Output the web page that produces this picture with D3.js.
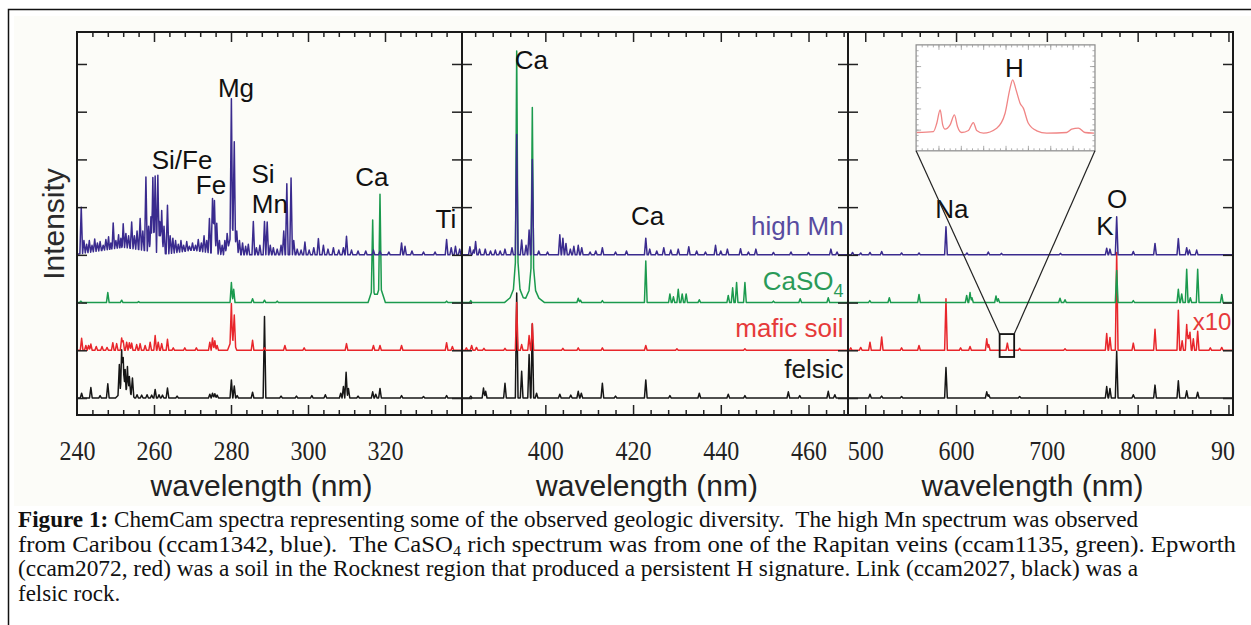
<!DOCTYPE html>
<html>
<head>
<meta charset="utf-8">
<script src="https://cdn.jsdelivr.net/npm/d3@7"></script>
<style>
  body { margin: 0; background: #fff; }
  text { white-space: pre; }
</style>
</head>
<body>
<div id="chart"></div>
<script>
// spectra: [wavelength nm, height above own baseline (tick units), optional half-width nm]
const bluePeaks = [
  [252, 0.16, 13], [270, 0.1, 8],
  [241.1, 1.0], [241.8, 0.3], [242.5, 0.22], [243.2, 0.3], [243.9, 0.2], [244.6, 0.33], [245.3, 0.25],
  [246.0, 0.28], [246.8, 0.2], [247.5, 0.32], [248.2, 0.38], [248.8, 0.25], [249.4, 0.67], [250.1, 0.3],
  [250.8, 0.42], [251.4, 0.35], [252.0, 0.65], [252.7, 0.45], [253.4, 0.4], [254.2, 0.69], [254.9, 0.4],
  [255.6, 0.5], [256.4, 0.76], [257.1, 0.5], [257.9, 1.63], [258.6, 0.6], [259.2, 0.8], [259.7, 1.62],
  [260.3, 1.65], [261.0, 1.67], [261.5, 0.7], [262.0, 0.93], [262.6, 0.6], [263.5, 1.04], [264.2, 0.4],
  [264.9, 0.35], [265.6, 0.3], [266.3, 0.22], [267.0, 0.3], [267.7, 0.2], [268.5, 0.28], [269.2, 0.18],
  [270.0, 0.25], [270.8, 0.2], [271.5, 0.32], [272.3, 0.25], [273.0, 0.4], [273.7, 0.3], [274.4, 0.76],
  [275.2, 1.18], [275.7, 1.14], [276.3, 0.66], [277.0, 0.3], [277.7, 0.2], [278.4, 0.3], [279.0, 0.45],
  [280.4, 0.55, 1.6], [280.1, 3.27], [280.85, 2.37], [281.5, 0.5], [282.2, 0.3], [283.0, 0.25],
  [283.8, 0.18], [284.5, 0.22], [285.8, 0.7], [286.6, 0.15], [287.5, 0.2], [288.7, 0.7], [289.4, 0.69],
  [290.2, 0.2], [291.0, 0.15], [292.0, 0.12], [293.0, 0.2], [293.7, 0.5], [294.5, 1.49], [295.6, 1.61],
  [296.3, 0.3], [297.2, 0.12], [298.2, 0.1], [299.2, 0.27], [300.3, 0.1], [301.5, 0.15], [302.7, 0.34],
  [304.0, 0.2], [305.2, 0.12], [306.6, 0.15], [308.0, 0.1], [309.2, 0.15], [310.0, 0.39], [311.3, 0.1],
  [313.0, 0.08], [315.0, 0.08], [317.0, 0.1], [318.7, 0.08], [321.0, 0.06], [324.3, 0.25], [325.2, 0.18],
  [327.0, 0.08], [330.0, 0.06], [333.0, 0.06], [336.0, 0.32], [337.2, 0.15], [338.3, 0.18], [339.4, 0.12],
  [382.8, 0.17], [383.6, 0.1], [384.1, 0.28], [385.0, 0.12], [386.3, 0.12], [387.5, 0.08], [388.6, 0.1],
  [389.7, 0.08], [390.8, 0.12], [392.4, 0.15], [393.47, 2.52], [394.6, 0.31], [395.6, 0.2], [396.3, 0.52],
  [397.03, 2.0], [398.5, 0.08], [400.5, 0.06], [403.3, 0.42], [404.0, 0.35], [404.7, 0.24], [405.7, 0.12],
  [406.5, 0.18], [407.5, 0.2], [408.3, 0.15], [410.2, 0.06], [411.5, 0.08], [413.0, 0.15], [416.0, 0.06],
  [418.5, 0.08], [422.9, 0.35], [423.8, 0.12], [425.4, 0.08], [427.0, 0.15], [428.6, 0.1], [430.3, 0.12],
  [432.7, 0.17], [434.5, 0.08], [436.5, 0.06], [438.8, 0.2], [440.0, 0.08], [441.5, 0.12], [444.5, 0.13],
  [446.3, 0.06], [448.0, 0.12], [452.0, 0.05], [456.0, 0.06], [460.0, 0.05], [465.1, 0.12], [466.5, 0.06],
  [486, 0.05], [495, 0.04], [505.2, 0.05], [518.1, 0.07], [540, 0.04], [559.2, 0.04], [588.9, 0.59],
  [612, 0.04], [635.5, 0.06], [650, 0.03], [715, 0.03], [765.9, 0.14], [769.5, 0.12], [776.9, 0.8],
  [795.2, 0.07], [819.1, 0.24], [844.8, 0.34], [854.0, 0.15], [857.0, 0.1], [865.0, 0.1]
];

const greenPeaks = [
  [241, 0.03], [248.0, 0.21], [251.6, 0.05], [256, 0.02], [280.1, 0.42], [280.7, 0.28], [285.6, 0.08],
  [288.7, 0.05], [292, 0.03], [316.8, 0.3, 1.2], [316.8, 1.73], [318.7, 0.35, 1.4], [318.7, 2.27], [336, 0.03],
  [383, 0.04],
  [393.47, 0.22, 2.8], [393.47, 0.55, 1.5], [393.47, 1.4, 0.75], [393.47, 5.27, 0.3],
  [397.03, 0.2, 2.8], [397.03, 0.5, 1.5], [397.03, 1.2, 0.75], [397.03, 4.09, 0.3],
  [407.5, 0.09], [408.0, 0.05], [413.0, 0.04], [422.9, 0.87], [428.4, 0.18], [429.2, 0.12], [430.3, 0.28],
  [431.2, 0.18], [432.1, 0.18], [435.1, 0.06], [441.7, 0.15], [442.7, 0.31], [443.6, 0.42], [445.5, 0.42],
  [452, 0.03], [458.1, 0.08], [464.5, 0.1],
  [505, 0.04], [526.5, 0.1], [559.2, 0.17], [611.7, 0.15], [615.4, 0.21], [617.5, 0.1], [644, 0.14],
  [646.5, 0.08], [714.5, 0.09], [720, 0.06], [776.9, 0.67], [795.2, 0.04], [844.8, 0.28], [848.5, 0.18],
  [854.0, 0.7], [858.0, 0.1], [866.1, 0.7], [892.6, 0.17]
];

const redPeaks = [
  [241.2, 0.25], [242.3, 0.1], [243.0, 0.1], [243.6, 0.13], [245.0, 0.08], [246.5, 0.08], [247.8, 0.06],
  [249.3, 0.16], [250.3, 0.14], [251.6, 0.26], [252.0, 0.2], [252.9, 0.17], [253.6, 0.16], [254.2, 0.15],
  [255.5, 0.12], [256.4, 0.14], [257.7, 0.1], [259.0, 0.17], [260.3, 0.31], [261.1, 0.17], [262.0, 0.14],
  [263.5, 0.23], [265, 0.05], [268, 0.05], [271, 0.05], [274.5, 0.17], [275.2, 0.26], [275.8, 0.2],
  [276.4, 0.1], [280.3, 0.25, 1.2], [280.1, 0.98], [280.85, 0.74], [285.6, 0.21], [288.7, 0.05], [294, 0.1],
  [299, 0.05], [310.0, 0.14], [317.0, 0.1], [318.7, 0.1], [324.3, 0.1], [336.0, 0.16], [337.5, 0.08],
  [382, 0.05], [383.2, 0.1], [384.3, 0.06], [386, 0.04], [390.8, 0.04], [393.47, 1.0], [394.6, 0.12],
  [396.3, 0.31], [397.03, 0.56], [404, 0.04], [407.5, 0.05], [413, 0.05], [422.9, 0.1], [430, 0.03],
  [445.5, 0.03],
  [484, 0.05], [495, 0.06], [505.2, 0.17], [518.1, 0.28], [540, 0.05], [559.2, 0.1], [588.9, 1.08],
  [605, 0.05], [615.4, 0.08], [633.8, 0.24], [636, 0.12], [656.5, 0.15], [670, 0.04], [720, 0.03],
  [765.9, 0.35], [769.5, 0.27], [776.9, 2.05], [795.2, 0.15], [819.1, 0.44], [844.8, 0.84], [849, 0.2],
  [854.0, 0.54], [855.8, 0.31], [857.6, 0.38], [861.3, 0.24], [866.1, 0.4], [880, 0.05], [892.6, 0.06]
];

const blackPeaks = [
  [241.2, 0.1], [243.6, 0.22], [246, 0.05], [248.0, 0.3], [252.5, 0.2, 2.5], [251.0, 0.7], [251.6, 1.01],
  [252.0, 0.85], [252.5, 0.6], [253.1, 0.66], [253.6, 0.45], [254.4, 0.42], [255.6, 0.07], [256.8, 0.06],
  [258.2, 0.07], [259.4, 0.06], [260.3, 0.18], [261.3, 0.07], [262.2, 0.06], [263.5, 0.21], [266, 0.04],
  [274.5, 0.08], [275.2, 0.1], [275.8, 0.09], [276.4, 0.06], [280.1, 0.38], [280.85, 0.25], [281.6, 0.05],
  [285.6, 0.12], [288.7, 1.71], [293, 0.04], [297, 0.04], [301, 0.05], [304.5, 0.07], [308.5, 0.1],
  [309.2, 0.24], [309.9, 0.54], [310.5, 0.2], [313, 0.04], [316.8, 0.13], [317.6, 0.08], [318.7, 0.2],
  [324.3, 0.05], [330, 0.03], [336.0, 0.05],
  [383, 0.04], [385.9, 0.21], [386.4, 0.14], [390.8, 0.31], [393.47, 2.2], [394.6, 0.56], [396.3, 0.91],
  [397.03, 1.55], [398, 0.1], [403.3, 0.08], [405.8, 0.06], [407.5, 0.14], [408.2, 0.1], [413.0, 0.31],
  [416, 0.04], [422.9, 0.38], [428.4, 0.05], [435.1, 0.1], [441.7, 0.08], [445.5, 0.05], [455.4, 0.13],
  [458, 0.05], [464.5, 0.14], [466, 0.07],
  [505.2, 0.08], [518, 0.04], [540, 0.03], [588.9, 0.64], [633.8, 0.13], [636, 0.07], [670, 0.03],
  [765.9, 0.24], [769.5, 0.2], [776.9, 0.98], [795.2, 0.07], [819.1, 0.27], [844.8, 0.36], [854.0, 0.15],
  [866.1, 0.12]
];

// zoomed H line of the red spectrum: [wavelength nm, inset intensity]
const insetPoints = [
  [648.06, 1.73], [649.55, 1.82], [649.85, 2.6], [650.15, 3.87], [650.38, 2.45], [650.59, 2.04],
  [651.04, 2.45], [651.43, 3.4], [651.7, 2.3], [652.08, 1.73], [652.68, 1.92], [653.12, 2.67],
  [653.42, 1.92], [654.02, 1.67], [655.21, 2.14], [655.96, 3.55], [656.4, 5.9], [656.64, 6.7],
  [656.94, 5.75], [657.3, 4.5], [657.59, 4.03], [658.04, 2.6], [658.79, 1.89], [659.68, 1.67],
  [661.47, 1.73], [661.92, 2.04], [662.51, 2.14], [663.1, 1.73], [663.91, 1.67]
];

const panelDomains = [[240, 340], [381, 469], [481, 905]];
const panelTickLabels = [[240, 260, 280, 300, 320], [400, 420, 440, 460], [500, 600, 700, 800, 900]];
const majorSteps = [20, 20, 100];
const minorSteps = [4, 4, 20];
const insetDomain = [648, 664];

const series = [
  { name: "felsic", peaks: blackPeaks, offset: 0, color: "#161616", label: "#1a1a1a", labelY: 0.42 },
  { name: "mafic soil", peaks: redPeaks, offset: 1, color: "#e8262b", label: "#e63a3a", labelY: 1.28 },
  { name: "CaSO", sub: "4", peaks: greenPeaks, offset: 2, color: "#1b9a4e", label: "#2a9a58", labelY: 2.26 },
  { name: "high Mn", peaks: bluePeaks, offset: 3, color: "#3a2b8e", label: "#584ca0", labelY: 3.42 }
];

const elementLabels = [
  { text: "Mg", panel: 0, wl: 281.3, y: 6.31 },
  { text: "Si/Fe", panel: 0, wl: 267.3, y: 4.8 },
  { text: "Fe", panel: 0, wl: 274.8, y: 4.27 },
  { text: "Si", panel: 0, wl: 288.3, y: 4.51 },
  { text: "Mn", panel: 0, wl: 290.1, y: 3.88 },
  { text: "Ca", panel: 0, wl: 316.6, y: 4.44 },
  { text: "Ti", panel: 0, wl: 335.8, y: 3.56 },
  { text: "Ca", panel: 1, wl: 396.8, y: 6.9 },
  { text: "Ca", panel: 1, wl: 423.3, y: 3.63 },
  { text: "Na", panel: 2, wl: 595.5, y: 3.77 },
  { text: "O", panel: 2, wl: 777.3, y: 3.98 },
  { text: "K", panel: 2, wl: 764.0, y: 3.42 }
];

const captionLines = [
  "ChemCam spectra representing some of the observed geologic diversity.  The high Mn spectrum was observed",
  "from Caribou (ccam1342, blue).  The CaSO|4| rich spectrum was from one of the Rapitan veins (ccam1135, green). Epworth",
  "(ccam2072, red) was a soil in the Rocknest region that produced a persistent H signature. Link (ccam2027, black) was a",
  "felsic rock."
];

const W = 1251, H = 625;
const plotTop = 32, plotBottom = 415;
const panelEdges = [77, 462, 848, 1233];

const svg = d3.select("#chart").append("svg")
  .attr("width", W).attr("height", H)
  .style("font-family", "'Liberation Sans', Arial, sans-serif");

// figure background + page border
svg.append("rect").attr("x", 14).attr("y", 16).attr("width", W - 14).attr("height", 490).attr("fill", "#fcfcf8");
svg.append("path").attr("d", `M8.5,${H} V9.5 H${W}`).attr("fill", "none").attr("stroke", "#111").attr("stroke-width", 1.5);

const y = d3.scaleLinear().domain([-0.356, 7.67]).range([plotBottom, plotTop]);
const xs = panelDomains.map((d, i) => d3.scaleLinear().domain(d).range([panelEdges[i], panelEdges[i + 1]]));

const defs = svg.append("defs");

// turn a peak list into a stick-spectrum outline for one panel
function profile(peaks, domain, halfW) {
  const [d0, d1] = domain;
  const list = peaks.map(p => ({ c: p[0], h: p[1], w: p[2] || halfW }))
    .filter(p => p.c + p.w > d0 && p.c - p.w < d1);
  const pts = new Set([d0, d1]);
  list.forEach(p => { pts.add(p.c - p.w); pts.add(p.c); pts.add(p.c + p.w); });
  return Array.from(pts).filter(v => v >= d0 && v <= d1).sort((a, b) => a - b)
    .map(v => [v, d3.max(list, p => Math.max(0, p.h * (1 - Math.abs(v - p.c) / p.w))) || 0]);
}

xs.forEach((x, i) => {
  const clipId = "clip" + i;
  defs.append("clipPath").attr("id", clipId).append("rect")
    .attr("x", x.range()[0]).attr("y", plotTop)
    .attr("width", x.range()[1] - x.range()[0]).attr("height", plotBottom - plotTop);

  const pxPerNm = (x.range()[1] - x.range()[0]) / (x.domain()[1] - x.domain()[0]);
  const halfW = 1.35 / pxPerNm;
  const g = svg.append("g").attr("clip-path", `url(#${clipId})`);
  series.forEach(s => {
    const line = d3.line().x(d => x(d[0])).y(d => y(s.offset + d[1]));
    g.append("path")
      .datum(profile(s.peaks, x.domain(), halfW))
      .attr("fill", "none")
      .attr("stroke", s.color)
      .attr("stroke-width", 1.5)
      .attr("stroke-linejoin", "round")
      .attr("d", line);
  });

  // x ticks (bottom pointing up, top pointing down)
  const [d0, d1] = x.domain();
  const minor = d3.range(Math.ceil(d0 / minorSteps[i]) * minorSteps[i], d1, minorSteps[i])
    .filter(v => v > d0 && v < d1 && v % majorSteps[i] !== 0);
  const major = d3.range(Math.ceil(d0 / majorSteps[i]) * majorSteps[i], d1 + 0.001, majorSteps[i])
    .filter(v => v > d0 && v < d1);
  [[minor, 5], [major, 10]].forEach(([vals, len]) => {
    svg.append("g").attr("class", "tick-axis").attr("transform", `translate(0,${plotBottom})`)
      .call(d3.axisBottom(x).tickValues(vals).tickSize(-len).tickSizeOuter(0).tickFormat(""));
    svg.append("g").attr("class", "tick-axis").attr("transform", `translate(0,${plotTop})`)
      .call(d3.axisTop(x).tickValues(vals).tickSize(-len).tickSizeOuter(0).tickFormat(""));
  });

  // tick labels (serif, as in the figure)
  const labG = svg.append("g").attr("class", "tick-labels").attr("transform", `translate(0,${plotBottom})`);
  if (i === 2) {
    defs.append("clipPath").attr("id", "labclip").append("rect")
      .attr("x", 0).attr("y", 0).attr("width", 1235).attr("height", 80);
    labG.attr("clip-path", "url(#labclip)");
  }
  labG.call(d3.axisBottom(x).tickValues(panelTickLabels[i]).tickSize(0).tickSizeOuter(0));
  labG.selectAll("text")
    .attr("y", 45).attr("dy", null)
    .attr("fill", "#222")
    .style("font-family", "'Liberation Serif', 'Times New Roman', serif")
    .style("font-size", "28px")
    .attr("textLength", 36).attr("lengthAdjust", "spacingAndGlyphs");

  // axis title
  svg.append("text")
    .attr("x", (x.range()[0] + x.range()[1]) / 2 - 8)
    .attr("y", 496)
    .attr("text-anchor", "middle")
    .attr("fill", "#222")
    .style("font-size", "30px")
    .text("wavelength (nm)");
});

svg.selectAll(".tick-axis path.domain, .tick-labels path.domain").remove();
svg.selectAll(".tick-axis line").attr("stroke", "#222").attr("stroke-width", 1.5);

// y ticks on every panel border
const yTicks = d3.range(0, 8);
panelEdges.forEach((px, i) => {
  if (i < 3) {
    svg.append("g").attr("class", "ytick").attr("transform", `translate(${px},0)`)
      .call(d3.axisRight(y).tickValues(yTicks).tickSize(10).tickSizeOuter(0).tickFormat(""));
  }
  if (i > 0) {
    svg.append("g").attr("class", "ytick").attr("transform", `translate(${px},0)`)
      .call(d3.axisLeft(y).tickValues(yTicks).tickSize(10).tickSizeOuter(0).tickFormat(""));
  }
});
svg.selectAll(".ytick path.domain").remove();
svg.selectAll(".ytick line").attr("stroke", "#222").attr("stroke-width", 1.5);

// panel frames
xs.forEach(x => {
  svg.append("rect")
    .attr("x", x.range()[0]).attr("y", plotTop)
    .attr("width", x.range()[1] - x.range()[0]).attr("height", plotBottom - plotTop)
    .attr("fill", "none").attr("stroke", "#1a1a1a").attr("stroke-width", 2);
});

// y title
svg.append("text")
  .attr("transform", `translate(64,224) rotate(-90)`)
  .attr("text-anchor", "middle")
  .attr("fill", "#2a2a2a")
  .style("font-size", "30px")
  .text("Intensity");

// element labels
svg.append("g").selectAll("text").data(elementLabels).join("text")
  .attr("x", d => xs[d.panel](d.wl))
  .attr("y", d => y(d.y))
  .attr("text-anchor", "middle")
  .attr("fill", "#111")
  .style("font-size", "26px")
  .text(d => d.text);

// series names, right-aligned in the middle panel
const nameT = svg.append("g").selectAll("text").data(series).join("text")
  .attr("x", xs[1](468))
  .attr("y", d => y(d.labelY))
  .attr("text-anchor", "end")
  .attr("fill", d => d.label)
  .style("font-size", "26px");
nameT.append("tspan").text(d => d.name);
nameT.filter(d => d.sub).append("tspan").attr("dy", 7).style("font-size", "18px").text(d => d.sub);

// x10 marker
svg.append("text")
  .attr("x", xs[2](881.9)).attr("y", y(1.43))
  .attr("text-anchor", "middle").attr("fill", "#e63a3a")
  .style("font-size", "24px").text("x10");

// inset of the H line
const x3 = xs[2];
const insetX = d3.scaleLinear().domain(insetDomain).range([x3(556), x3(753)]);
const insetY = d3.scaleLinear().domain([0, 10]).range([y(5.18), y(7.4)]);
const ins = svg.append("g");
ins.append("rect")
  .attr("x", insetX.range()[0]).attr("y", insetY.range()[1])
  .attr("width", insetX.range()[1] - insetX.range()[0])
  .attr("height", insetY.range()[0] - insetY.range()[1])
  .attr("fill", "#fff").attr("stroke", "#8a8a8a").attr("stroke-width", 1.2);
const inMinor = d3.range(648.5, 664, 0.5);
const inMajor = d3.range(650, 664, 2);
[[inMinor, 2.5], [inMajor, 5]].forEach(([vals, len]) => {
  ins.append("g").attr("class", "itick").attr("transform", `translate(0,${insetY.range()[0]})`)
    .call(d3.axisBottom(insetX).tickValues(vals).tickSize(-len).tickSizeOuter(0).tickFormat(""));
  ins.append("g").attr("class", "itick").attr("transform", `translate(0,${insetY.range()[1]})`)
    .call(d3.axisTop(insetX).tickValues(vals).tickSize(-len).tickSizeOuter(0).tickFormat(""));
});
[[d3.range(0.5, 10, 0.5), 2.5], [d3.range(2, 10, 2), 5]].forEach(([vals, len]) => {
  ins.append("g").attr("class", "itick").attr("transform", `translate(${insetX.range()[0]},0)`)
    .call(d3.axisRight(insetY).tickValues(vals).tickSize(len).tickSizeOuter(0).tickFormat(""));
  ins.append("g").attr("class", "itick").attr("transform", `translate(${insetX.range()[1]},0)`)
    .call(d3.axisLeft(insetY).tickValues(vals).tickSize(len).tickSizeOuter(0).tickFormat(""));
});
ins.selectAll(".itick path.domain").remove();
ins.selectAll(".itick line").attr("stroke", "#9a9a9a").attr("stroke-width", 0.8);
ins.append("path")
  .datum(insetPoints)
  .attr("fill", "none").attr("stroke", "#f08585").attr("stroke-width", 1.3)
  .attr("d", d3.line().x(d => insetX(d[0])).y(d => insetY(d[1])).curve(d3.curveMonotoneX));
ins.append("text")
  .attr("x", insetX(656.8)).attr("y", insetY(6.98))
  .attr("text-anchor", "middle").attr("fill", "#111")
  .style("font-size", "26px").text("H");

// zoom box on the red spectrum + connector lines
const boxTop = y(1.34), boxBot = y(0.86);
svg.append("rect")
  .attr("x", x3(insetDomain[0])).attr("y", boxTop)
  .attr("width", x3(insetDomain[1]) - x3(insetDomain[0])).attr("height", boxBot - boxTop)
  .attr("fill", "none").attr("stroke", "#111").attr("stroke-width", 1.8);
insetDomain.forEach(wl => {
  svg.append("line")
    .attr("x1", insetX(wl)).attr("y1", insetY.range()[0])
    .attr("x2", x3(wl)).attr("y2", boxTop)
    .attr("stroke", "#222").attr("stroke-width", 1.2);
});

// caption
const cap = svg.append("g")
  .style("font-family", "'Liberation Serif', 'Times New Roman', serif")
  .style("font-size", "23px")
  .attr("fill", "#111");
const capWidths = [1120, 1218, 1120, null];
captionLines.forEach((line, k) => {
  const t = cap.append("text").attr("x", 18).attr("y", 527 + k * 24.5);
  if (k === 0) t.append("tspan").style("font-weight", "bold").text("Figure 1: ");
  line.split("|").forEach((part, j) => {
    if (j === 1) {
      t.append("tspan").attr("dy", 4).style("font-size", "15px").text(part);
    } else if (j === 2) {
      t.append("tspan").attr("dy", -4).text(part);
    } else {
      t.append("tspan").text(part);
    }
  });
  if (capWidths[k]) t.attr("textLength", capWidths[k]).attr("lengthAdjust", "spacingAndGlyphs");
});
</script>
</body>
</html>
